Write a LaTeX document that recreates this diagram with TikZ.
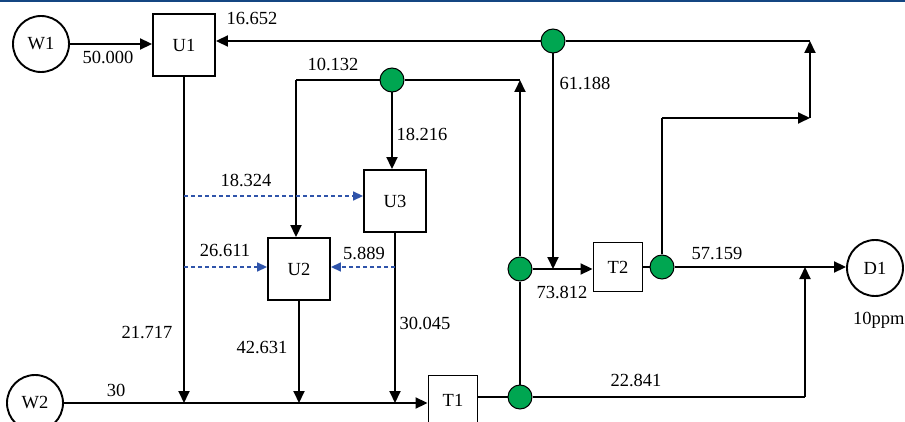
\documentclass[tikz,border=0pt]{standalone}
\usepackage{fontspec}
\setmainfont{Liberation Serif}
\newfontfamily\tmsfont{Liberation Serif}
\usetikzlibrary{arrows.meta}
\definecolor{mygreen}{RGB}{0,166,81}
\definecolor{myblue}{RGB}{47,84,170}
\definecolor{topblue}{RGB}{20,70,130}
\begin{document}
\begin{tikzpicture}[x=1pt,y=-1pt,
 font=\tmsfont\fontsize{18.5}{20}\selectfont,
 ln/.style={line width=1.9pt},
 arr/.style={line width=1.9pt,-{Triangle[length=12pt,width=11pt]}},
 flowbox/.style={draw,line width=1.9pt,minimum width=62pt,minimum height=62pt,inner sep=0pt},
 tank/.style={draw,line width=1.9pt,minimum width=49pt,minimum height=49pt,inner sep=0pt},
 src/.style={draw,circle,line width=1.9pt,minimum size=56pt,inner sep=0pt},
 split/.style={draw,circle,fill=mygreen,line width=1pt,minimum size=24pt,inner sep=0pt},
 darr/.style={line width=1.7pt,dash pattern=on 4pt off 3pt,color=myblue,-{Triangle[length=10pt,width=9pt]}},
 lbl/.style={inner sep=0pt}
]
\clip (0,0) rectangle (905,422);
\fill[topblue] (0,0) rectangle (905,2.5);

% units
\node[src] (W1) at (41,44) {W1};
\node[src] (W2) at (35,403) {W2};
\node[src] (D1) at (875,268) {D1};
\node[flowbox] (U1) at (184,45) {U1};
\node[flowbox] (U3) at (395,201) {U3};
\node[flowbox] (U2) at (299,269) {U2};
\node[tank] (T1) at (453,400) {T1};
\node[tank] (T2) at (618,267) {T2};

% splitters
\node[split] (G1) at (553,41) {};
\node[split] (G2) at (392,80) {};
\node[split] (G4) at (662,267) {};
\node[split] (G5) at (520,269) {};
\node[split] (G6) at (520,397) {};

% coordinates
\coordinate (c1) at (810,41);
\coordinate (c2) at (810,118);
\coordinate (c3) at (662,118);
\coordinate (c4) at (296,80);
\coordinate (c5) at (520,80);
\coordinate (m1) at (184,403);
\coordinate (m2) at (299,403);
\coordinate (m3) at (395,403);
\coordinate (d1) at (184,196);
\coordinate (d2) at (184,267);
\coordinate (d3) at (395,267);
\coordinate (j1) at (553,269);
\coordinate (j2) at (805,267);
\coordinate (j3) at (805,397);

% connectors
\draw[arr] (W1) -- (U1.west |- W1);
\draw[arr] (G1) -- (U1.east |- G1);
\draw[ln] (G1) -- (c1);
\draw[arr] (c2) -- (c1);
\draw[ln] (G4) -- (c3);
\draw[arr] (c3) -- (c2);
\draw[arr] (G1) -- (j1);

\draw[ln] (G2) -- (c4);
\draw[arr] (c4) -- (U2.north -| c4);
\draw[arr] (G2) -- (U3.north -| G2);
\draw[ln] (G2) -- (c5);
\draw[ln] (G6) -- (G5);
\draw[arr] (G5) -- (c5);

\draw[arr] (U1) -- (m1);
\draw[arr] (U2) -- (m2);
\draw[arr] (U3) -- (m3);
\draw[arr] (W2) -- (T1.west |- W2);

\draw[darr] (d1) -- (U3.west |- d1);
\draw[darr] (d2) -- (U2.west |- d2);
\draw[darr] (d3) -- (U2.east |- d3);

\draw[ln] (T1.east |- G6) -- (G6);
\draw[ln] (G6) -- (j3);
\draw[arr] (j3) -- (j2);
\draw[arr] (G5) -- (T2.west |- G5);
\draw[ln] (T2.east |- G4) -- (G4);
\draw[arr] (G4) -- (D1.west |- G4);

% labels
\node[lbl] (l1) at (108,57) {50.000};
\node[lbl] (l2) at (252,19) {16.652};
\node[lbl] (l3) at (333,64) {10.132};
\node[lbl] (l4) at (585,83) {61.188};
\node[lbl] (l5) at (422,134) {18.216};
\node[lbl] (l6) at (246,180) {18.324};
\node[lbl] (l7) at (225,251) {26.611};
\node[lbl] (l8) at (364,253) {5.889};
\node[lbl] (l9) at (147,333) {21.717};
\node[lbl] (l10) at (262,348) {42.631};
\node[lbl] (l11) at (425,323) {30.045};
\node[lbl] (l12) at (116,390) {30};
\node[lbl] (l13) at (562,292) {73.812};
\node[lbl] (l14) at (636,380) {22.841};
\node[lbl] (l15) at (717,254) {57.159};
\node[lbl,anchor=west] (l16) at (853,320) {10ppm};
\end{tikzpicture}
\end{document}
